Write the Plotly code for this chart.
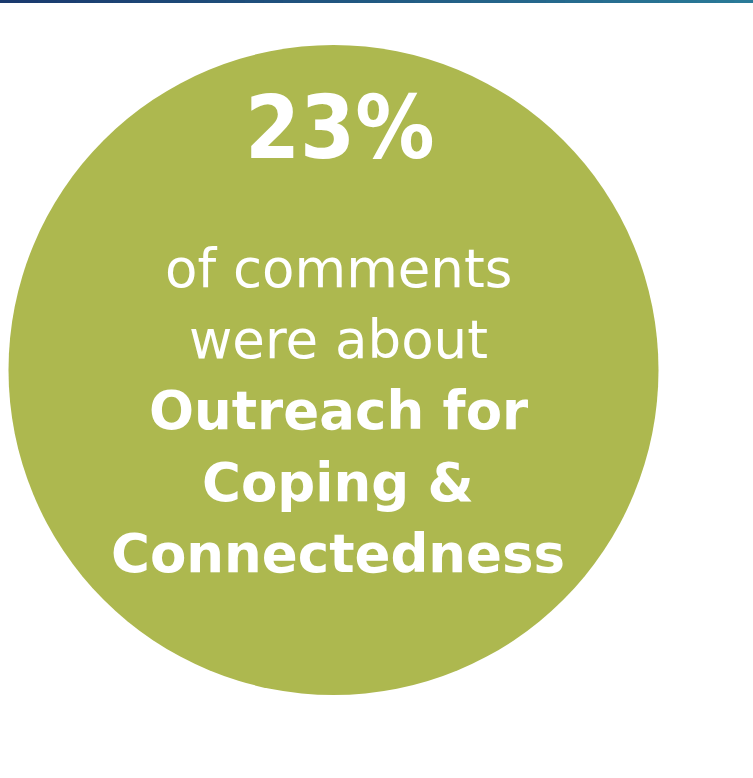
import plotly.graph_objects as go

W, H = 753, 778
percent_value = 23
caption_lines = ["of comments", "were about"]
topic_lines = ["Outreach for", "Coping &", "Connectedness"]

circle_color = "#adb84f"
cx, cy, r = 333.5, 370, 325

fig = go.Figure()
fig.update_layout(
    width=W, height=H, margin=dict(l=0, r=0, t=0, b=0),
    paper_bgcolor="white", plot_bgcolor="white",
    xaxis=dict(range=[0, W], visible=False, fixedrange=True),
    yaxis=dict(range=[H, 0], visible=False, fixedrange=True),
    showlegend=False,
)

# top gradient bar
n_seg = 40
c0 = (26, 58, 110)
c1 = (42, 122, 152)
for i in range(n_seg):
    t = i / (n_seg - 1)
    col = tuple(int(c0[k] + (c1[k] - c0[k]) * t) for k in range(3))
    fig.add_shape(type="rect", x0=W * i / n_seg, x1=W * (i + 1) / n_seg + 1, y0=0, y1=3,
                  line=dict(width=0), fillcolor="rgb(%d,%d,%d)" % col, layer="above")

fig.add_shape(type="circle", x0=cx - r, x1=cx + r, y0=cy - r, y1=cy + r,
              fillcolor=circle_color, line=dict(width=0), layer="below")

fig.add_annotation(x=340, y=127, text=f"<b>{percent_value}%</b>", showarrow=False,
                   font=dict(family="DejaVu Sans Condensed, DejaVu Sans", size=88, color="white"))

ys = [268, 339, 410, 482, 553]
lines = [(t, False) for t in caption_lines] + [(t, True) for t in topic_lines]
for (txt, bold), y in zip(lines, ys):
    fig.add_annotation(x=338, y=y, text=f"<b>{txt}</b>" if bold else txt, showarrow=False,
                       font=dict(family="DejaVu Sans", size=53, color="white"))

fig.write_html("out.html")
